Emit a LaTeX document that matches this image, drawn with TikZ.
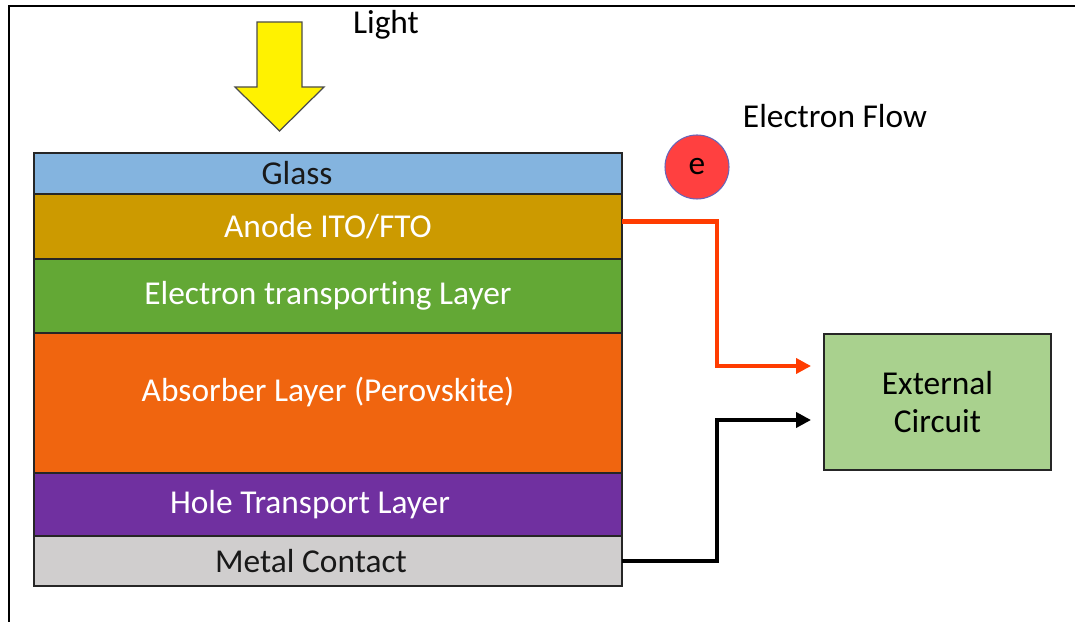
\documentclass[tikz,border=0pt]{standalone}
\usepackage{fontspec}
\setmainfont{Carlito}[Ligatures=NoCommon]
\usepackage{tikz}
\usetikzlibrary{arrows.meta,positioning,calc}
\definecolor{lglass}{HTML}{84B4DF}
\definecolor{lanode}{HTML}{CC9A00}
\definecolor{letl}{HTML}{63A835}
\definecolor{labs}{HTML}{F0650F}
\definecolor{lhtl}{HTML}{7030A0}
\definecolor{lmetal}{HTML}{D0CECE}
\definecolor{circ}{HTML}{A9D18E}
\definecolor{elred}{HTML}{FF4040}
\definecolor{flowred}{HTML}{FF3C00}

\begin{document}
\begin{tikzpicture}[x=0.2mm, y=-0.2mm, font=\fontsize{19}{22}\selectfont,
        layer/.style={draw=black!85, line width=0.8pt, minimum width=117.6mm, inner sep=0pt,
                      outer sep=0pt, text=white},
        flow/.style={-{Triangle[length=3mm,width=3mm]}, line width=2.6pt, shorten >=2.4mm},
        node distance=0pt]
        \useasboundingbox (0,0) rectangle (1075,622);
        \draw[line width=1.6pt] (9,622) -- (9,6) -- (1075,6);
        % light coming in
        \draw[fill=yellow, draw=black!70, line width=0.7pt] (257,22) -- (302,22) -- (302,87) -- (324,87)
              -- (279.5,131) -- (235,87) -- (257,87) -- cycle;
        \node (lightlbl) at (386,25) {Light};
        % cell stack
        \node[layer, fill=lglass, text=black!90, minimum height=8.2mm] (glass) at (328,173.5) {\hspace*{-12.4mm}Glass};
        \node[layer, fill=lanode, minimum height=13mm, below=of glass] (anode) {Anode ITO/FTO};
        \node[layer, fill=letl, minimum height=14.8mm, below=of anode] (etl) {Electron transporting Layer};
        \node[layer, fill=labs, minimum height=28mm, text depth=5.5mm, below=of etl] (absorber) {Absorber Layer (Perovskite)};
        \node[layer, fill=lhtl, minimum height=12.6mm, below=of absorber] (htl) {\hspace*{-7.2mm}Hole Transport Layer};
        \node[layer, fill=lmetal, text=black!90, minimum height=10mm, below=of htl] (metal) {\hspace*{-6.8mm}Metal Contact};
        % circuit
        \node (flowlbl) at (835,116) {Electron Flow};
        \node[circle, fill=elred, draw=black!45!blue!60, line width=0.6pt, minimum size=12.8mm, inner sep=0pt] (elec) at (697,167) {e};
        \node[draw=black!85, line width=1.1pt, fill=circ, minimum width=45.4mm, minimum height=27.2mm, align=center] (circuit) at (937.5,402) {External\\Circuit};
        \draw[flow, flowred] ([yshift=1mm]anode.east) -- ++(95,0) |- ([yshift=7.2mm]circuit.west);
        \draw[flow, black] (metal.east) -- ++(95,0) |- ([yshift=-3.6mm]circuit.west);
      \end{tikzpicture}
\end{document}
